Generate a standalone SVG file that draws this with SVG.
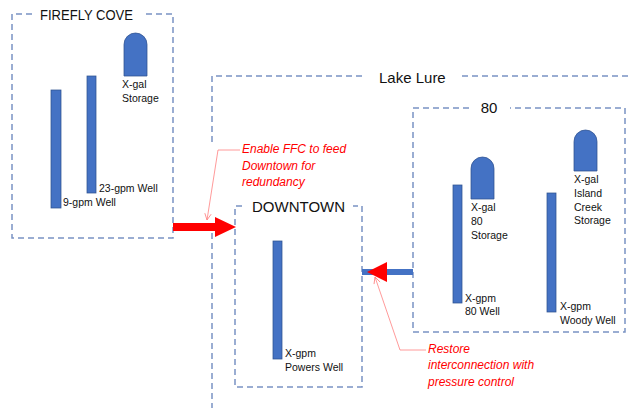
<svg xmlns="http://www.w3.org/2000/svg" width="632" height="408" viewBox="0 0 632 408">
<defs>
<style>
.frame{fill:none;stroke:#7A93C4;stroke-width:1.5;stroke-dasharray:6 4}
.well{fill:#4472C4;stroke:#2F528F;stroke-width:0.75}
.tank{fill:#4472C4;stroke:#2F528F;stroke-width:0.75}
.title{font-family:"Liberation Sans",Arial,sans-serif;font-size:15px;fill:#111}
.lbl{font-family:"Liberation Sans",Arial,sans-serif;font-size:10.5px;fill:#111}
.note{font-family:"Liberation Sans",Arial,sans-serif;font-size:12px;font-style:italic;fill:#FF0000}
.lead{fill:none;stroke:#FF8080;stroke-width:0.8}
</style>
<marker id="open" viewBox="0 0 10 10" refX="9" refY="5" markerWidth="8" markerHeight="8" orient="auto" markerUnits="userSpaceOnUse">
<path d="M1,1 L9,5 L1,9" fill="none" stroke="#FF8080" stroke-width="1"/>
</marker>
</defs>
<rect width="632" height="408" fill="#fff"/>

<g id="lake-lure">
<path class="frame" d="M212,142 V76 H362 M462,76 H632 M212,233 V408"/>
<text class="title" x="379" y="83">Lake Lure</text>
</g>

<g id="firefly-cove">
<path class="frame" d="M32,14 H12 V238 H173 V14 H142"/>
<text class="title" x="40" y="20" textLength="93" lengthAdjust="spacingAndGlyphs">FIREFLY COVE</text>
<rect class="well" x="51" y="90" width="10" height="118"/>
<rect class="well" x="87" y="76" width="9" height="117"/>
<path class="tank" d="M124,76 V44.5 A11.5,11.5 0 0 1 147,44.5 V76 Z"/>
<text class="lbl" x="122" y="88">X-gal</text>
<text class="lbl" x="122" y="102">Storage</text>
<text class="lbl" x="99" y="192">23-gpm Well</text>
<text class="lbl" x="63" y="206">9-gpm Well</text>
</g>

<g id="downtown">
<path class="frame" d="M242,206 H235 V387 H362 V206 H353"/>
<text class="title" x="252" y="212">DOWNTOWN</text>
<rect class="well" x="273" y="241" width="9" height="118"/>
<text class="lbl" x="285" y="357">X-gpm</text>
<text class="lbl" x="285" y="371">Powers Well</text>
</g>

<g id="eighty">
<path class="frame" d="M469,108 H413 V332 H625 V108 H510"/>
<text class="title" x="489" y="113" text-anchor="middle">80</text>
<rect class="well" x="453" y="185" width="9" height="118"/>
<path class="tank" d="M471,199 V168.5 A11.5,11.5 0 0 1 494,168.5 V199 Z"/>
<text class="lbl" x="471" y="211">X-gal</text>
<text class="lbl" x="471" y="225">80</text>
<text class="lbl" x="471" y="239">Storage</text>
<text class="lbl" x="465" y="302">X-gpm</text>
<text class="lbl" x="465" y="315">80 Well</text>
<rect class="well" x="547" y="193" width="9" height="119"/>
<path class="tank" d="M574,171 V141.5 A11.5,11.5 0 0 1 597,141.5 V171 Z"/>
<text class="lbl" x="574" y="183">X-gal</text>
<text class="lbl" x="574" y="197">Island</text>
<text class="lbl" x="574" y="211">Creek</text>
<text class="lbl" x="574" y="224">Storage</text>
<text class="lbl" x="560" y="310">X-gpm</text>
<text class="lbl" x="560" y="324">Woody Well</text>
</g>

<g id="connectors">
<polygon fill="#FF0000" points="173,223 215,223 215,217 236,227 215,237 215,231 173,231"/>
<rect x="362" y="269" width="51" height="6" fill="#4472C4"/>
<polygon fill="#FF0000" points="387,262 367,272 387,282"/>
<polyline class="lead" points="240,150 218,150 207,220" marker-end="url(#open)"/>
<polyline class="lead" points="426,350 400,350 375,277" marker-end="url(#open)"/>
</g>

<g id="notes">
<text class="note" x="242" y="153">Enable FFC to feed</text>
<text class="note" x="242" y="170">Downtown for</text>
<text class="note" x="242" y="186">redundancy</text>
<text class="note" x="428" y="353">Restore</text>
<text class="note" x="428" y="369">interconnection with</text>
<text class="note" x="428" y="386">pressure control</text>
</g>
</svg>
